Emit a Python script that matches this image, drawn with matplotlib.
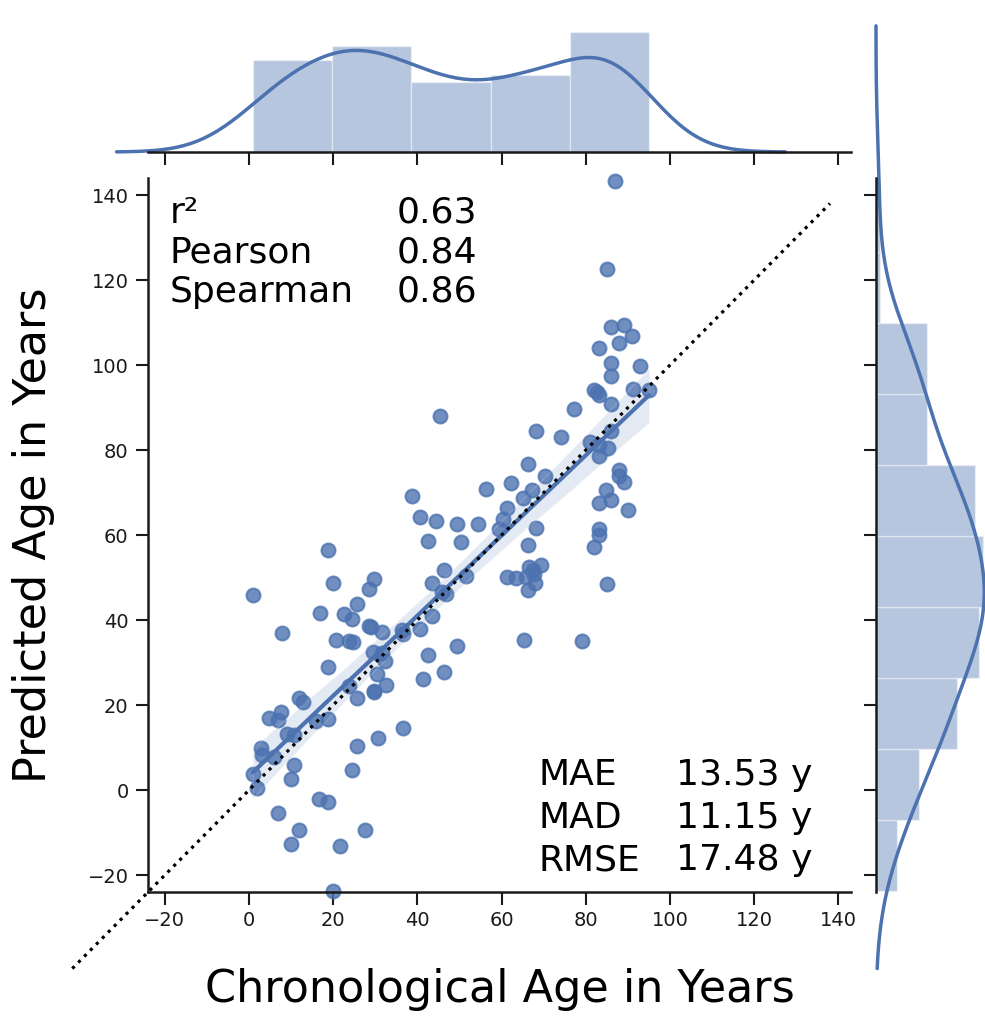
import numpy as np
import matplotlib
matplotlib.use('Agg')
import matplotlib.pyplot as plt
import seaborn as sns

# chronological vs predicted age (years)
chron_age = [
    38.6, 18.8, 19.9, 0.9, 29.6, 28.6, 25.7, 22.6, 24.5, 16.8,
    7.8, 20.7, 23.7, 24.7, 28.6, 28.9, 31.6, 18.8, 29.5, 31.6,
    32.4, 30.5, 23.7, 29.6, 29.6, 32.5, 25.7, 36.3, 36.6, 36.6,
    11.8, 12.8, 7.7, 4.8, 6.8, 18.7, 16.0, 8.9, 10.7, 2.8,
    3.0, 6.0, 0.9, 1.9, 10.7, 9.9, 25.6, 30.6, 24.4, 6.9,
    16.7, 18.8, 27.6, 11.8, 9.9, 21.7, 19.9,
    90.9, 87.9, 83.1, 86.0, 92.8, 86.0, 82.0, 83.1, 82.6, 91.1,
    95.0, 86.0, 77.1, 45.4, 68.2, 74.1, 86.0, 81.0, 83.1, 83.1,
    85.2, 66.3, 87.9, 87.9, 89.1, 70.2, 62.3, 56.3, 67.2, 65.1,
    84.9, 86.0, 83.1, 89.9, 61.3, 60.4, 59.4, 40.5, 44.4, 49.5,
    54.5, 42.4, 50.4, 68.2, 83.1, 83.1, 82.0, 66.3, 66.6, 69.3,
    67.4, 67.6, 65.9, 67.9, 66.3, 61.3, 63.4, 85.0, 46.3, 51.5,
    43.4, 45.8, 46.8, 40.6, 43.4, 49.3, 42.4, 46.4, 41.4, 65.2,
    79.1, 87.0, 85.0, 86.0, 89.1,
]
pred_age = [
    69.2, 56.5, 48.7, 45.9, 49.7, 47.2, 43.7, 41.4, 40.2, 41.7,
    36.9, 35.3, 35.1, 34.9, 38.7, 38.3, 37.3, 28.9, 32.5, 32.3,
    30.4, 27.2, 24.5, 23.4, 23.0, 24.6, 21.6, 37.6, 36.7, 14.5,
    21.6, 20.8, 18.4, 16.9, 16.4, 16.6, 16.3, 13.3, 12.9, 9.8,
    8.2, 7.8, 3.8, 0.4, 5.9, 2.6, 10.4, 12.3, 4.7, -5.5,
    -2.2, -2.7, -9.4, -9.4, -12.7, -13.1, -23.7,
    106.8, 105.1, 103.9, 100.4, 99.8, 97.4, 94.1, 92.9, 93.6, 94.3,
    94.1, 90.8, 89.6, 88.0, 84.5, 83.0, 84.5, 81.9, 81.2, 78.6,
    80.4, 76.8, 75.4, 73.9, 72.5, 73.9, 72.3, 70.8, 70.7, 68.6,
    70.7, 68.2, 67.6, 65.9, 66.3, 63.7, 61.5, 64.3, 63.3, 62.5,
    62.6, 58.7, 58.4, 61.6, 61.4, 60.1, 57.2, 57.6, 52.5, 52.9,
    51.8, 50.9, 50.2, 48.6, 47.1, 50.1, 50.0, 48.4, 51.8, 50.4,
    48.8, 46.5, 46.2, 38.0, 41.0, 33.8, 31.8, 27.8, 26.1, 35.3,
    35.1, 143.4, 122.7, 108.9, 109.4,
]

stat_names = ['r²', 'Pearson', 'Spearman']
stat_values = ['0.63', '0.84', '0.86']
err_names = ['MAE', 'MAD', 'RMSE']
err_values = ['13.53 y', '11.15 y', '17.48 y']

ticks = [-20, 0, 20, 40, 60, 80, 100, 120, 140]

sns.set_style('ticks')
plt.rcParams['font.family'] = ['DejaVu Sans']
plt.rcParams['text.color'] = 'black'
plt.rcParams['axes.labelcolor'] = 'black'
plt.rcParams['xtick.color'] = '.1'
plt.rcParams['ytick.color'] = '.1'
plt.rcParams['axes.edgecolor'] = '.1'

blue = sns.color_palette('deep')[0]
x = np.array(chron_age)
y = np.array(pred_age)

fig = plt.figure(figsize=(9.85, 10.16), dpi=100)
ax = fig.add_axes([0.1503, 0.1220, 0.7137, 0.7028])
ax_top = fig.add_axes([0.1503, 0.8504, 0.7137, 0.1378], sharex=ax)
ax_right = fig.add_axes([0.8893, 0.1220, 0.1421, 0.7028], sharey=ax)

# main scatter + regression
sns.regplot(x=x, y=y, ax=ax, color=blue, seed=0,
            scatter_kws={'s': 100, 'alpha': 0.8, 'linewidths': 1.5, 'clip_on': False},
            line_kws={'lw': 3})
ax.plot([-42, 138], [-42, 138], ':', color='k', lw=2.3, clip_on=False, zorder=5)

ax.set_xlim(-24, 143)
ax.set_ylim(-24, 144)
ax.set_xticks(ticks)
ax.set_yticks(ticks)
sns.despine(ax=ax)
for s in ['left', 'bottom']:
    ax.spines[s].set_linewidth(1.8)
ax.tick_params(labelsize=14, length=9, width=1.5, pad=5)

ax.set_xlabel('Chronological Age in Years', fontsize=32)
ax.set_ylabel('Predicted Age in Years', fontsize=32)
ax.xaxis.set_label_coords(0.5, -0.107)
ax.yaxis.set_label_coords(-0.133, 0.5)

for i, (n, v) in enumerate(zip(stat_names, stat_values)):
    yy = 0.937 - i * 0.0553
    ax.text(0.031, yy, n, transform=ax.transAxes, fontsize=26, va='baseline')
    ax.text(0.354, yy, v, transform=ax.transAxes, fontsize=26, va='baseline')

for i, (n, v) in enumerate(zip(err_names, err_values)):
    yy = 0.1495 - i * 0.0596
    ax.text(0.555, yy, n, transform=ax.transAxes, fontsize=26, va='baseline')
    ax.text(0.751, yy, v, transform=ax.transAxes, fontsize=26, va='baseline')

# marginals
ax_top.hist(x, bins=5, density=True, color=blue, alpha=0.4,
            edgecolor='white', linewidth=1)
sns.kdeplot(x=x, ax=ax_top, color=blue, lw=2.5, cut=3)
ax_right.hist(y, bins=10, density=True, color=blue, alpha=0.4,
              edgecolor='white', linewidth=1, orientation='horizontal')
sns.kdeplot(y=y, ax=ax_right, color=blue, lw=2.5, cut=3, clip=(-42, 300))
for line in ax_top.lines + ax_right.lines:
    line.set_clip_on(False)

ax_top.set_ylim(0, 0.016)
ax_right.set_xlim(0, 0.0148)
ax_top.set_ylabel('')
ax_top.set_xlabel('')
ax_right.set_xlabel('')
ax_right.set_ylabel('')

sns.despine(ax=ax_top, left=True)
sns.despine(ax=ax_right, bottom=True)
ax_top.spines['bottom'].set_linewidth(1.8)
ax_right.spines['left'].set_linewidth(1.8)
ax_top.tick_params(labelbottom=False, left=False, labelleft=False, length=9, width=1.5)
ax_right.tick_params(labelleft=False, bottom=False, labelbottom=False, length=9, width=1.5)

fig.savefig('out.png', dpi=100)
